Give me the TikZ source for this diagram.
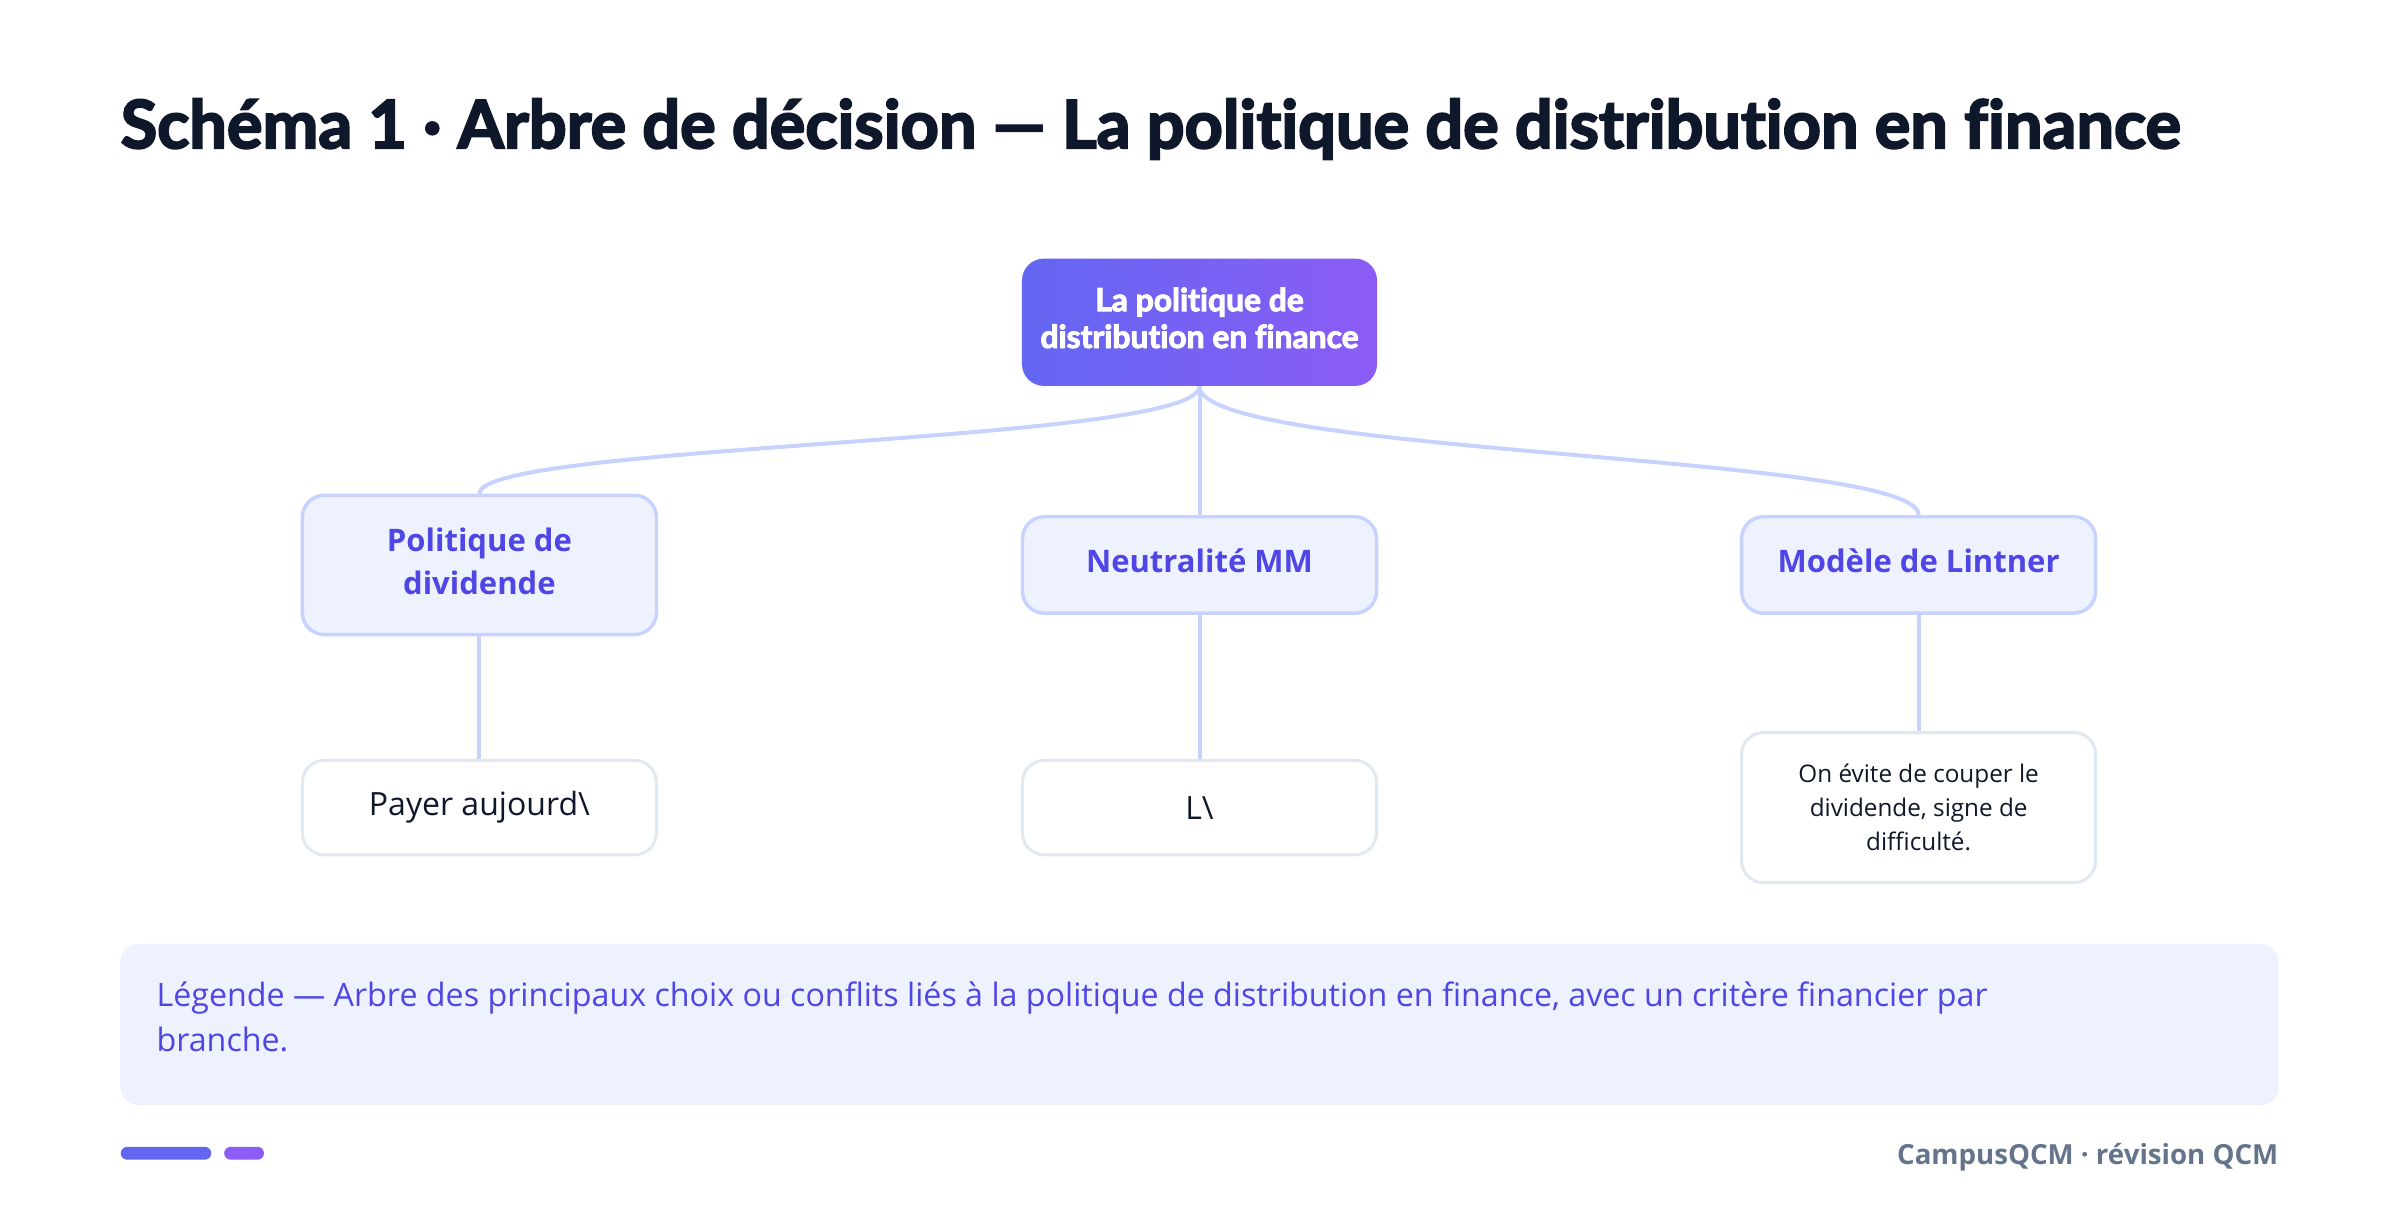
\documentclass[tikz,border=0pt]{standalone}
\usepackage{fontspec}
\setmainfont{Open Sans}
\newfontfamily\titlefont{Lato}[Ligatures=NoCommon, FakeBold=3]
\definecolor{ink}{HTML}{0F172A}
\definecolor{indtext}{HTML}{4F46E5}
\definecolor{indA}{HTML}{6366F1}
\definecolor{vioA}{HTML}{8B5CF6}
\definecolor{lightfill}{HTML}{EEF2FF}
\definecolor{lightborder}{HTML}{C7D2FE}
\definecolor{leafborder}{HTML}{E2E8F0}
\definecolor{footgray}{HTML}{64748B}
\tikzset{
  rootbox/.style={rounded corners=11pt, left color=indA, right color=vioA, draw=none,
    minimum width=178.5pt, minimum height=64pt, text=white, align=center, text depth=4.5pt,
    font=\titlefont\bfseries\fontsize{16}{18.5}\selectfont},
  branchbox/.style={rounded corners=11pt, fill=lightfill, draw=lightborder, line width=1.7pt,
    minimum width=178pt, text=indtext, align=center, text depth=4pt,
    font=\bfseries\fontsize{15.6}{21.5}\selectfont},
  leafbox/.style={rounded corners=11pt, fill=white, draw=leafborder, line width=1.5pt,
    minimum width=178pt, text=ink, align=center},
  conn/.style={draw=lightborder, line width=2pt},
}
\begin{document}
\begin{tikzpicture}[x=0.5pt,y=-0.5pt]
\useasboundingbox[fill=white] (0,0) rectangle (2413,1220.5);
% title
\node[anchor=base west, inner sep=0, text=ink] (title) at (121,149)
  {\resizebox{1035pt}{!}{\titlefont\bfseries Schéma 1 · Arbre de décision — La politique de distribution en finance}};
% root
\node[rootbox] (root) at (1206,324) {La politique de\\distribution en finance};
% branches
\node[branchbox, minimum height=70pt] (pd) at (482,568) {Politique de\\dividende};
\node[branchbox, minimum height=48.5pt] (mm) at (1206,568) {Neutralité MM};
\node[branchbox, minimum height=48.5pt] (lt) at (1929,568) {Modèle de Lintner};
% leaves
\node[leafbox, minimum height=47.5pt, font=\fontsize{16.1}{20}\selectfont] (pdl) at (482,812) {Payer aujourd\textbackslash};
\node[leafbox, minimum height=47.5pt, font=\fontsize{16.1}{20}\selectfont] (mml) at (1206,812) {L\textbackslash};
\node[leafbox, minimum height=75.5pt, font=\fontsize{12.2}{17}\selectfont] (ltl) at (1929,812) {On évite de couper le\\dividende, signe de\\difficulté.};
% connectors
\draw[conn] (root.south) .. controls +(0,58) and +(0,-51) .. (pd.north);
\draw[conn] (root.south) -- (mm.north);
\draw[conn] (root.south) .. controls +(0,70) and +(0,-62) .. (lt.north);
\draw[conn] (pd.south) -- (pdl.north);
\draw[conn] (mm.south) -- (mml.north);
\draw[conn] (lt.south) -- (ltl.north);
% legend
\node[fill=lightfill, rounded corners=9pt, minimum width=1085pt, minimum height=81pt] (legbox) at (1206,1030) {};
\node[anchor=west, align=left, inner sep=0, text=indtext, font=\fontsize{16.2}{22.5}\selectfont] (legtext) at (157,1022)
  {Légende — Arbre des principaux choix ou conflits liés à la politique de distribution en finance, avec un critère financier par\\branche.};
% footer
\node[fill=indA, rounded corners=3.25pt, minimum width=45.5pt, minimum height=6.5pt, inner sep=0, anchor=west] (pill1) at (121,1159.5) {};
\node[fill=vioA, rounded corners=3.25pt, minimum width=20pt, minimum height=6.5pt, inner sep=0, anchor=west] (pill2) at (225,1159.5) {};
\node[anchor=east, inner sep=0, text=footgray, font=\bfseries\fontsize{13.9}{16}\selectfont] (foot) at (2291,1163) {CampusQCM · révision QCM};
\end{tikzpicture}
\end{document}
